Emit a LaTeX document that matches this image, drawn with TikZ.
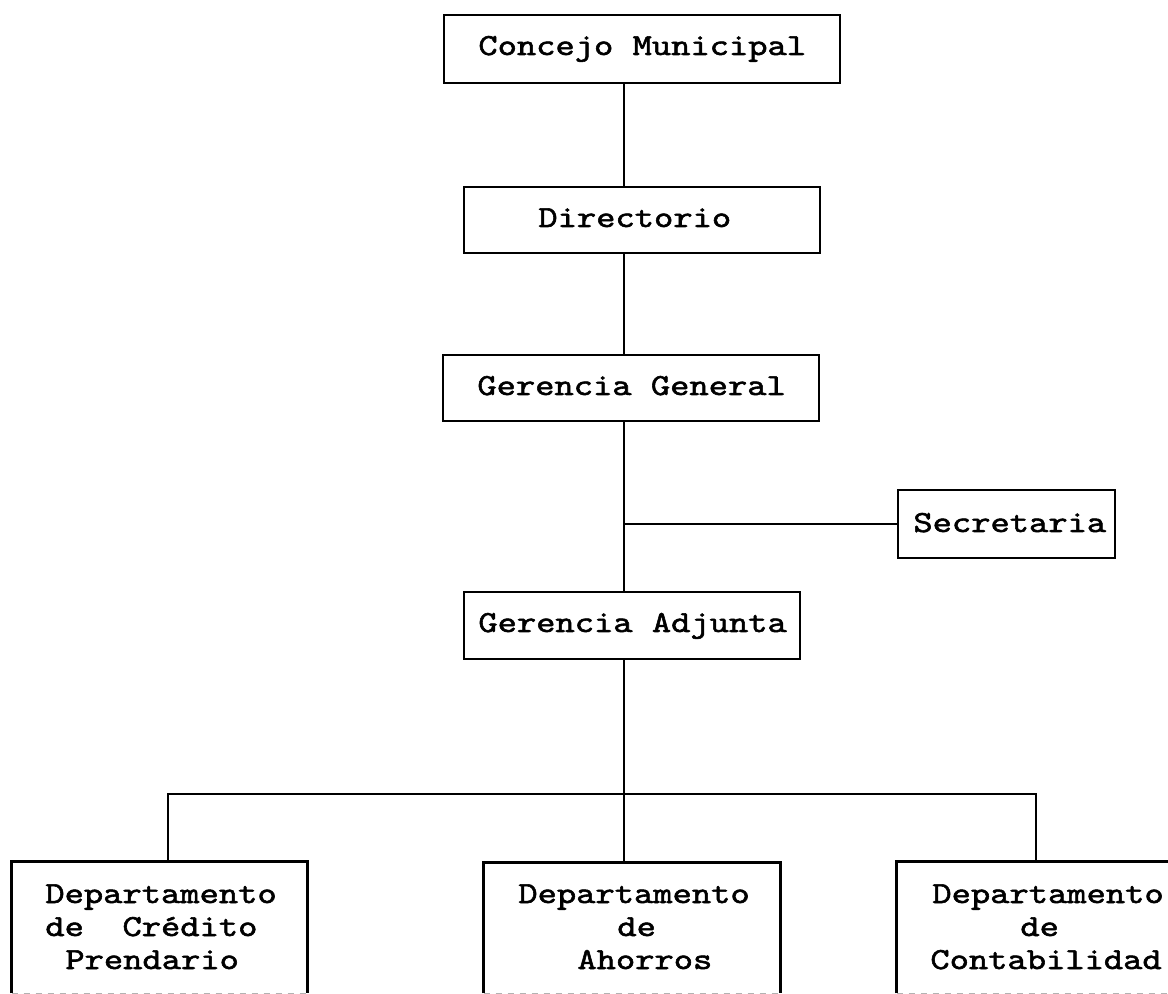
\documentclass[tikz,border=0pt]{standalone}
\usepackage{fontspec}
\newfontfamily\twfam{lmmono10-regular.otf}[FakeStretch=1.2,FakeBold=1.8]
\newcommand\twfont{\twfam\fontsize{15.3}{16.5}\selectfont}
\begin{document}
\begin{tikzpicture}[x=0.5pt,y=-0.5pt,
  box/.style={draw, line width=1.2pt, rectangle, inner sep=0pt},
  openbox/.style={rectangle, inner sep=0pt},
  lbl/.style={inner sep=0pt, anchor=base west, font=\twfont},
  conn/.style={line width=1.2pt},
  cut/.style={draw=black!30, dashed, line width=0.8pt}]
\useasboundingbox (0,0) rectangle (1168,994);
\clip (0,0) rectangle (1168,994);
\fill[white] (0,0) rectangle (1168,994);

% boxes
\node[box, minimum width=198pt, minimum height=34pt] (cm) at (642,49) {};
\node[box, minimum width=178pt, minimum height=33pt] (dir) at (642,220) {};
\node[box, minimum width=188pt, minimum height=33pt] (gg) at (631,388) {};
\node[box, minimum width=108.5pt, minimum height=34pt] (sec) at (1006.5,524) {};
\node[box, minimum width=168pt, minimum height=33.5pt] (ga) at (632,625.5) {};
\node[openbox, minimum width=147.5pt, minimum height=65.5pt] (d1) at (159.5,927.5) {};
\node[openbox, minimum width=148pt, minimum height=65pt] (d2) at (632,928) {};
\node[openbox, minimum width=148pt, minimum height=65.5pt] (d3) at (1045,927.5) {};

\foreach \d in {d1,d2,d3}{
  \draw[conn] (\d.south west) -- (\d.north west) -- (\d.north east) -- (\d.south east);
  \draw[cut] (\d.south west) -- (\d.south east);
}

% labels
\node[lbl] (cmt) at (478,55) {Concejo Municipal};
\node[lbl] (dirt) at (538,227) {Directorio};
\node[lbl] (ggt) at (477,395) {Gerencia General};
\node[lbl] (sect) at (913,532) {Secretaria};
\node[lbl] (gat) at (478,632) {Gerencia Adjunta};

\node[lbl] (d1a) at (45,903) {Departamento};
\node[lbl] (d1b) at (45,936) {de\ \ Crédito};
\node[lbl] (d1c) at (65,969) {Prendario};

\node[lbl] (d2a) at (518,903) {Departamento};
\node[lbl] (d2b) at (617,936) {de};
\node[lbl] (d2c) at (577,969) {Ahorros};

\node[lbl] (d3a) at (932,903) {Departamento};
\node[lbl] (d3b) at (1020,936) {de};
\node[lbl] (d3c) at (930,969) {Contabilidad};

% connector coordinates
\coordinate (spine) at (624,0);
\coordinate (busL) at (168,794);
\coordinate (busR) at (1036,794);

% connectors
\draw[conn] (cm.south -| spine) -- (dir.north -| spine);
\draw[conn] (dir.south -| spine) -- (gg.north -| spine);
\draw[conn] (gg.south -| spine) -- (ga.north -| spine);
\draw[conn] (spine |- sec.west) -- (sec.west);
\draw[conn] (ga.south -| spine) -- (d2.north -| spine);
\draw[conn] (d1.north -| busL) -- (busL) -- (busR) -- (d3.north -| busR);
\end{tikzpicture}
\end{document}
